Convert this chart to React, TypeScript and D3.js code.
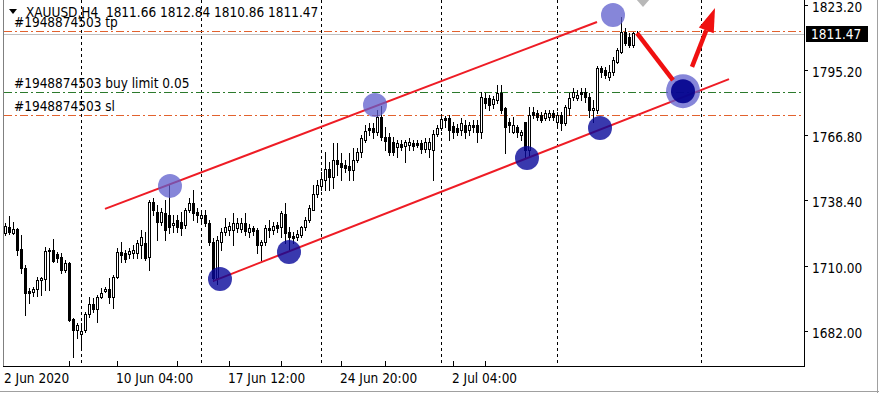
import React from 'react';
import * as d3 from 'd3';

const W = 879;
const H = 393;

const opens = [1725.2,1727.8,1725.2,1726.9,1718.2,1710.0,1700.0,1699.6,1700.9,1704.8,1705.2,1717.4,1717.8,1716.1,1714.8,1709.1,1712.2,1687.9,1683.1,1681.4,1683.1,1690.0,1694.4,1692.2,1697.4,1700.0,1700.9,1697.4,1706.1,1716.9,1716.5,1716.1,1716.5,1716.5,1720.0,1720.8,1714.8,1738.6,1734.3,1729.9,1733.8,1733.0,1728.6,1730.8,1729.9,1728.6,1735.1,1738.2,1734.3,1731.7,1733.0,1729.5,1721.3,1705.6,1721.3,1725.6,1726.5,1726.5,1727.3,1726.9,1729.5,1725.6,1727.3,1726.5,1720.0,1721.3,1727.3,1726.5,1728.6,1727.8,1733.4,1725.6,1723.9,1723.4,1724.3,1727.8,1730.8,1735.1,1742.1,1745.6,1748.2,1752.9,1749.5,1756.8,1755.5,1754.7,1754.2,1752.5,1756.8,1760.3,1765.5,1770.7,1770.7,1769.0,1775.5,1766.8,1766.8,1764.6,1762.5,1763.8,1762.9,1763.3,1764.2,1764.2,1764.2,1761.6,1761.6,1761.2,1768.1,1770.7,1775.1,1775.1,1771.6,1770.7,1769.8,1772.0,1769.8,1772.0,1772.0,1769.0,1783.7,1783.7,1781.1,1782.9,1785.9,1779.4,1773.3,1769.0,1771.2,1767.7,1773.3,1761.2,1777.7,1777.2,1776.4,1775.1,1775.5,1777.2,1773.3,1776.4,1772.9,1779.4,1784.2,1783.7,1786.3,1786.3,1784.2,1778.5,1778.5,1796.7,1795.9,1792.8,1795.0,1799.3,1803.7,1812.4,1810.2,1806.7,1811.66];
const highs = [1729.5,1732.5,1729.9,1727.3,1724.3,1711.3,1701.3,1701.7,1706.1,1706.1,1719.1,1718.7,1722.6,1716.9,1716.5,1713.5,1712.6,1688.3,1686.1,1686.1,1690.9,1697.4,1697.0,1698.3,1701.3,1701.7,1705.6,1706.9,1718.7,1721.3,1717.8,1718.7,1720.0,1722.1,1726.5,1725.6,1739.5,1740.4,1737.3,1736.0,1739.5,1746.5,1733.0,1733.0,1734.3,1736.0,1740.4,1743.8,1736.0,1734.3,1735.1,1730.8,1723.0,1723.9,1727.3,1731.7,1729.9,1733.8,1731.7,1731.7,1733.8,1729.1,1728.2,1727.3,1722.1,1728.6,1730.8,1729.9,1729.9,1734.7,1738.2,1727.8,1725.6,1726.5,1728.2,1732.1,1737.3,1746.0,1748.2,1751.6,1760.3,1756.0,1764.2,1764.2,1759.9,1756.8,1759.9,1762.0,1762.0,1767.7,1772.0,1772.9,1772.9,1778.5,1780.3,1771.2,1768.5,1766.8,1765.5,1765.5,1765.5,1766.4,1765.5,1765.5,1765.5,1766.4,1766.4,1769.8,1772.0,1776.4,1775.9,1776.4,1773.3,1772.5,1775.1,1774.2,1773.3,1774.2,1774.2,1786.3,1785.9,1785.0,1784.6,1789.4,1789.4,1779.8,1775.1,1775.5,1772.0,1769.8,1773.3,1779.8,1779.8,1778.5,1777.7,1778.5,1778.5,1778.5,1777.7,1777.7,1780.7,1785.9,1788.1,1787.2,1788.1,1788.1,1785.9,1782.9,1797.6,1797.6,1797.2,1798.0,1801.5,1805.4,1818.9,1814.1,1811.9,1812.4,1812.84];
const lows = [1724.3,1724.7,1724.7,1715.6,1707.8,1689.6,1694.8,1697.8,1697.8,1698.3,1700.4,1700.4,1712.6,1712.6,1707.8,1708.2,1687.0,1671.4,1679.6,1675.7,1682.2,1688.7,1690.9,1686.6,1697.0,1699.6,1694.8,1692.6,1705.6,1712.6,1712.6,1714.3,1714.3,1714.3,1714.3,1713.5,1709.1,1733.0,1722.1,1728.6,1722.1,1725.2,1725.6,1725.6,1724.3,1727.3,1734.3,1730.8,1729.9,1729.9,1728.2,1720.0,1704.3,1703.0,1717.8,1724.3,1724.3,1720.0,1725.6,1725.6,1724.3,1723.4,1724.3,1716.5,1713.5,1720.0,1723.4,1724.7,1725.6,1723.4,1720.8,1717.8,1720.8,1722.1,1723.4,1726.5,1729.9,1735.1,1740.8,1743.8,1743.8,1743.8,1744.7,1750.3,1748.2,1751.6,1748.2,1748.2,1756.0,1758.1,1764.6,1767.7,1766.4,1767.7,1765.5,1761.2,1759.0,1759.0,1758.1,1761.2,1756.0,1761.2,1761.2,1762.5,1759.9,1760.3,1758.1,1748.2,1767.2,1769.8,1771.2,1765.5,1766.4,1767.7,1767.7,1766.4,1767.7,1769.0,1764.6,1766.4,1779.4,1778.5,1779.4,1781.6,1777.2,1759.9,1769.0,1768.5,1766.8,1765.5,1758.1,1758.1,1775.1,1774.2,1773.3,1774.2,1774.2,1774.2,1772.0,1769.8,1772.0,1776.4,1782.9,1782.9,1782.9,1782.0,1775.5,1773.3,1777.2,1792.8,1792.4,1791.5,1793.7,1798.9,1803.2,1806.7,1805.9,1805.9,1810.86];
const closes = [1728.2,1725.6,1726.9,1717.8,1710.0,1699.1,1699.1,1700.9,1704.8,1705.6,1717.4,1717.8,1713.0,1714.3,1709.1,1712.2,1687.4,1683.1,1685.3,1682.7,1690.0,1694.4,1692.2,1697.4,1699.1,1700.9,1697.4,1706.1,1716.9,1715.6,1713.9,1717.4,1717.8,1720.8,1723.4,1714.3,1738.6,1735.1,1729.9,1734.3,1726.5,1727.8,1729.5,1727.8,1727.3,1735.1,1738.2,1733.8,1733.0,1733.0,1729.5,1721.3,1705.6,1722.1,1725.6,1727.8,1728.2,1729.5,1729.5,1729.5,1726.0,1727.3,1726.0,1720.0,1721.3,1727.3,1726.5,1728.2,1727.3,1733.8,1725.2,1723.4,1723.0,1724.7,1727.8,1730.8,1736.0,1742.1,1746.0,1748.6,1752.9,1749.5,1756.8,1755.1,1753.8,1753.4,1752.5,1756.8,1760.3,1766.4,1769.4,1769.8,1769.0,1775.5,1766.8,1765.1,1760.3,1760.3,1764.2,1762.5,1764.6,1764.6,1762.9,1763.3,1761.6,1764.6,1764.6,1768.1,1770.7,1774.6,1774.2,1769.8,1769.0,1769.0,1772.9,1769.0,1772.0,1771.2,1769.0,1784.2,1781.6,1780.7,1783.3,1785.9,1778.5,1771.2,1772.0,1772.0,1769.0,1769.0,1761.2,1776.4,1776.4,1775.5,1774.2,1777.2,1777.2,1775.5,1776.4,1772.9,1779.8,1783.7,1786.3,1785.0,1785.5,1784.2,1778.5,1779.4,1796.7,1795.0,1793.7,1795.0,1800.2,1804.6,1812.4,1807.6,1806.7,1811.9,1811.47];

const priceTicks = [1823.2, 1795.2, 1766.8, 1738.4, 1710.0, 1682.0];
const timeLabels = ['2 Jun 2020', '10 Jun 04:00', '17 Jun 12:00', '24 Jun 20:00', '2 Jul 04:00'];
const timeLabelBars = [0, 28, 56, 84, 112];
const timeTickBars = [16, 28, 43, 56, 69, 84, 95, 112, 120];
const gridBars = [19, 49, 79, 109, 138, 174];

const headerSymbol = 'XAUUSD,H4';
const headerOHLC = ['1811.66', '1812.84', '1810.86', '1811.47'];
const orderId = '#1948874503';
const bidPrice = 1811.47;
const tpPrice = 1812.9;
const buyLimitPrice = 1786.5;
const slPrice = 1776.3;

const upperChannel = [[25, 1735.6], [148, 1816.7]];
const lowerChannel = [[52, 1704.3], [181, 1791.9]];
const lightPoints = [[41.25, 1745.6], [92.5, 1780.7], [152, 1819.7]];
const darkPoints = [[53.75, 1705.2], [71, 1716.9], [130.5, 1757.7], [148.75, 1770.7]];
const targetPoint = [169.5, 1786.7];
const pullbackArrow = [[158, 1811.9], [167, 1791.5]];
const upArrow = [[171.75, 1797.2], [177.5, 1822.8]];

const FONT = '"DejaVu Sans Condensed", "DejaVu Sans", sans-serif';

export default function App() {
  const x = d3.scaleLinear().domain([0, 158]).range([5, 637]);
  const y = d3.scaleLinear().domain([1682, 1823.2]).range([332.5, 7]);
  const L = 4, R = 804, T = 0, B = 366;

  const candles = opens.map((o, i) => {
    const c = closes[i];
    const cx = Math.round(x(i));
    const top = Math.round(y(Math.max(o, c)));
    const bot = Math.round(y(Math.min(o, c)));
    const hy = Math.round(y(highs[i]));
    const ly = Math.round(y(lows[i]));
    const bull = c >= o;
    return (
      <g key={i}>
        <line x1={cx + 0.5} x2={cx + 0.5} y1={hy} y2={ly + 1} stroke="#000" />
        {bot - top > 0 ? (
          <rect x={cx - 0.5} y={top + 0.5} width={2} height={bot - top} fill={bull ? '#fff' : '#000'} stroke="#000" />
        ) : (
          <line x1={cx - 1} x2={cx + 2} y1={top + 0.5} y2={top + 0.5} stroke="#000" />
        )}
      </g>
    );
  });

  const hLine = (p, color, dash) => (
    <line x1={L} x2={R} y1={Math.round(y(p)) + 0.5} y2={Math.round(y(p)) + 0.5} stroke={color} strokeDasharray={dash} />
  );

  const seg = (pts) => pts.map(([i, p]) => [x(i), y(p)]);
  const [u0, u1] = seg(upperChannel);
  const [l0, l1] = seg(lowerChannel);
  const [a0, a1] = seg(pullbackArrow);
  const [b0, b1] = seg(upArrow);
  const dx = b1[0] - b0[0], dy = b1[1] - b0[1];
  const len = Math.hypot(dx, dy);
  const ux = dx / len, uy = dy / len;
  const headLen = 24, headW = 8;
  const base = [b1[0] - ux * headLen, b1[1] - uy * headLen];
  const head = [
    b1,
    [base[0] - uy * headW, base[1] + ux * headW],
    [base[0] + uy * headW, base[1] - ux * headW],
  ];

  return (
    <svg width={W} height={H} style={{ position: 'absolute', left: 0, top: 0, background: '#fff' }} fontFamily={FONT}>
      <defs>
        <clipPath id="plot">
          <rect x={L} y={T} width={R - L} height={B - T} />
        </clipPath>
      </defs>
      <rect x={0} y={0} width={W} height={H} fill="#fff" />
      <g clipPath="url(#plot)">
        {gridBars.map((b) => (
          <line key={b} x1={Math.round(x(b)) + 0.5} x2={Math.round(x(b)) + 0.5} y1={T} y2={B} stroke="#000" strokeDasharray="3,3" />
        ))}
        {hLine(bidPrice, '#c0c0c0', undefined)}
        {hLine(tpPrice, '#e2622e', '8,3,2,3')}
        {hLine(buyLimitPrice, '#2c7a2c', '8,3,2,3')}
        {hLine(slPrice, '#e2622e', '8,3,2,3')}
        <g shapeRendering="crispEdges">{candles}</g>
        <line x1={u0[0]} y1={u0[1]} x2={u1[0]} y2={u1[1]} stroke="#ee1c25" strokeWidth={2} />
        <line x1={l0[0]} y1={l0[1]} x2={l1[0]} y2={l1[1]} stroke="#ee1c25" strokeWidth={2} />
        {lightPoints.map(([i, p], k) => (
          <circle key={'l' + k} cx={x(i)} cy={y(p)} r={12} fill="#5d5dcc" fillOpacity={0.75} />
        ))}
        {darkPoints.map(([i, p], k) => (
          <circle key={'d' + k} cx={x(i)} cy={y(p)} r={12} fill="#08089a" fillOpacity={0.8} />
        ))}
        <circle cx={x(targetPoint[0])} cy={y(targetPoint[1])} r={17} fill="#5d5dcc" fillOpacity={0.75} />
        <circle cx={x(targetPoint[0])} cy={y(targetPoint[1])} r={12} fill="#00008c" fillOpacity={0.9} />
        <line x1={a0[0]} y1={a0[1]} x2={a1[0]} y2={a1[1]} stroke="#f01010" strokeWidth={4.5} />
        <line x1={b0[0]} y1={b0[1]} x2={base[0]} y2={base[1]} stroke="#f01010" strokeWidth={4.5} />
        <polygon points={head.map((p) => p.join(',')).join(' ')} fill="#f01010" />
        <polygon points="636,-1 650,-1 643,7" fill="#b8b8b8" />
        <text x={14} y={Math.round(y(tpPrice)) - 4} fontSize={13.5} fontStretch="condensed" fill="#000">{orderId} tp</text>
        <text x={14} y={Math.round(y(buyLimitPrice)) - 4} fontSize={13.5} fontStretch="condensed" fill="#000">{orderId} buy limit 0.05</text>
        <text x={14} y={Math.round(y(slPrice)) - 4} fontSize={13.5} fontStretch="condensed" fill="#000">{orderId} sl</text>
        <polygon points="9,9 17,9 13,14" fill="#000" />
        <text x={26} y={17} fontSize={13.5} fontStretch="condensed" fill="#000" style={{ whiteSpace: 'pre' }}>
          {headerSymbol + '  ' + headerOHLC.join(' ')}
        </text>
      </g>
      {/* frame */}
      <line x1={3.5} x2={3.5} y1={0} y2={B} stroke="#808080" />
      <line x1={R + 0.5} x2={R + 0.5} y1={0} y2={B + 0.5} stroke="#000" />
      <line x1={3} x2={R + 1} y1={B + 0.5} y2={B + 0.5} stroke="#000" />
      <line x1={0} x2={W} y1={H - 1.5} y2={H - 1.5} stroke="#a0a0a0" />
      <line x1={W - 1.5} x2={W - 1.5} y1={0} y2={H} stroke="#a0a0a0" />
      {/* price axis */}
      {priceTicks.map((p) => (
        <g key={p}>
          <line x1={R} x2={R + 4} y1={Math.round(y(p)) - 1.5} y2={Math.round(y(p)) - 1.5} stroke="#000" />
          <text x={812} y={y(p) + 5} fontSize={13.5} fontStretch="condensed" fill="#000">{p.toFixed(2)}</text>
        </g>
      ))}
      <rect x={806} y={Math.round(y(bidPrice)) - 8} width={62} height={16} fill="#000" />
      <text x={811} y={y(bidPrice) + 5} fontSize={13.5} fontStretch="condensed" fill="#fff">{bidPrice.toFixed(2)}</text>
      {/* time axis */}
      {timeTickBars.map((b) => (
        <line key={b} x1={Math.round(x(b)) + 0.5} x2={Math.round(x(b)) + 0.5} y1={B - 5} y2={B} stroke="#000" />
      ))}
      {timeLabelBars.map((b, k) => (
        <text key={b} x={x(b) - 1} y={383} fontSize={13.5} fontStretch="condensed" fill="#000">{timeLabels[k]}</text>
      ))}
    </svg>
  );
}
